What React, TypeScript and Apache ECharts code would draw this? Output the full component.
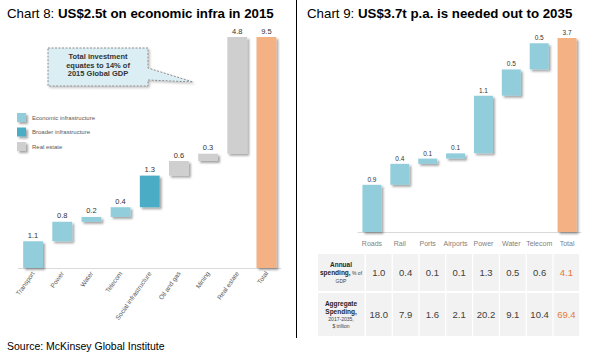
import React, { useEffect, useRef } from "react";
import * as echarts from "echarts";

const leftCategories = ["Transport", "Power", "Water", "Telecom", "Social infrastructure", "Oil and gas", "Mining", "Real estate", "Total"];
const leftValues = [1.1, 0.8, 0.2, 0.4, 1.3, 0.6, 0.3, 4.8, 9.5];
const leftKinds = ["econ", "econ", "econ", "econ", "broader", "real", "real", "real", "total"];

const rightCategories = ["Roads", "Rail", "Ports", "Airports", "Power", "Water", "Telecom", "Total"];
const rightValues = [0.9, 0.4, 0.1, 0.1, 1.1, 0.5, 0.5, 3.7];
const rightKinds = ["econ", "econ", "econ", "econ", "econ", "econ", "econ", "total"];

const annualSpending = [1.0, 0.4, 0.1, 0.1, 1.3, 0.5, 0.6, 4.1];
const aggregateSpending = [18.0, 7.9, 1.6, 2.1, 20.2, 9.1, 10.4, 69.4];

const legendLabels = ["Economic infrastructure", "Broader infrastructure", "Real estate"];
const legendKinds = ["econ", "broader", "real"];

const FONT = "Arial, 'Liberation Sans', sans-serif";
const COLORS: Record<string, string> = {
  econ: "#92CDDC",
  broader: "#4BACC6",
  real: "#D0CFCF",
  total: "#F4B183",
};
const SHADOW = { shadowColor: "rgba(0,0,0,0.35)", shadowBlur: 2, shadowOffsetX: 2, shadowOffsetY: 2 };

function bases(values: number[], kinds: string[]) {
  let acc = 0;
  return values.map((v, i) => {
    if (kinds[i] === "total") return 0;
    const b = Math.round(acc * 10) / 10;
    acc += v;
    return b;
  });
}

function valueData(values: number[], kinds: string[]) {
  return values.map((v, i) => ({
    value: v,
    itemStyle: { color: COLORS[kinds[i]], ...SHADOW },
  }));
}

export default function App() {
  const ref = useRef<HTMLDivElement>(null);
  useEffect(() => {
    if (!ref.current) return;
    const chart = echarts.init(ref.current, undefined, { renderer: "svg" });

    const graphics: any[] = [];
    const titleRich = {
      n: { fontSize: 13.3, fontFamily: FONT, fill: "#000" },
      b: { fontSize: 13.3, fontFamily: FONT, fontWeight: "bold", fill: "#000" },
    };
    graphics.push({
      type: "text", x: 7, y: 13,
      style: { text: "{n|Chart 8: }{b|US$2.5t on economic infra in 2015}", rich: titleRich, verticalAlign: "middle" },
    });
    graphics.push({
      type: "text", x: 307, y: 13,
      style: { text: "{n|Chart 9: }{b|US$3.7t p.a. is needed out to 2035}", rich: titleRich, verticalAlign: "middle" },
    });
    graphics.push({ type: "line", shape: { x1: 296.5, y1: 0, x2: 296.5, y2: 338 }, style: { stroke: "#000", lineWidth: 1 } });
    graphics.push({
      type: "text", x: 7, y: 346,
      style: { text: "Source: McKinsey Global Institute", fontSize: 10.5, fontFamily: FONT, fill: "#000", verticalAlign: "middle" },
    });
    legendLabels.forEach((lab, i) => {
      const y = 113 + i * 14.5;
      graphics.push({ type: "rect", shape: { x: 17, y, width: 9, height: 9 }, style: { fill: COLORS[legendKinds[i]], ...SHADOW } });
      graphics.push({
        type: "text", x: 32, y: y + 4.5,
        style: { text: lab, fontSize: 6, fontFamily: FONT, fill: "#595959", verticalAlign: "middle" },
      });
    });
    graphics.push({
      type: "polygon",
      shape: { points: [[48, 48], [148, 48], [148, 68], [193, 82], [148, 80], [148, 86], [48, 86]] },
      style: { fill: "#DBEEF4", stroke: "#8c8c8c", lineWidth: 1, lineDash: [2, 1.5], shadowColor: "rgba(0,0,0,0.25)", shadowBlur: 2, shadowOffsetX: 1.5, shadowOffsetY: 1.5 },
    });
    graphics.push({
      type: "text", x: 98, y: 65,
      style: {
        text: "Total investment\nequates to 14% of\n2015 Global GDP",
        fontSize: 7.5, fontWeight: "bold", fontFamily: FONT, fill: "#333", align: "center", verticalAlign: "middle", lineHeight: 8.5,
      },
    });
    const cellX0 = 366;
    const cellStep = 26.8;
    const cellW = 25.6;
    const rows = [
      { y: 254, h: 37, vals: annualSpending, header: "{b|Annual}\n{b|spending,}{s| % of}\n{s|GDP}" },
      { y: 293, h: 43, vals: aggregateSpending, header: "{b|Aggregate}\n{b|Spending,}\n{s|2017-2035,}\n{s|$ trillion}" },
    ];
    rows.forEach((r) => {
      graphics.push({ type: "rect", shape: { x: 318, y: r.y, width: 46.5, height: r.h }, style: { fill: "#F2F2F2" } });
      graphics.push({
        type: "text", x: 341, y: r.y + r.h / 2,
        style: {
          text: r.header, align: "center", verticalAlign: "middle",
          rich: {
            b: { fontSize: 6.5, fontWeight: "bold", fontFamily: FONT, fill: "#262626", lineHeight: 8, align: "center" },
            s: { fontSize: 5, fontFamily: FONT, fill: "#404040", lineHeight: 7.5, align: "center" },
          },
        },
      });
      r.vals.forEach((v, i) => {
        const x = cellX0 + i * cellStep;
        graphics.push({ type: "rect", shape: { x, y: r.y, width: cellW, height: r.h }, style: { fill: "#F2F2F2" } });
        graphics.push({
          type: "text", x: x + cellW / 2, y: r.y + r.h / 2,
          style: {
            text: v.toFixed(1), fontSize: 9.5, fontFamily: FONT,
            fill: i === r.vals.length - 1 ? "#E07B39" : "#404040",
            align: "center", verticalAlign: "middle",
          },
        });
      });
    });

    const labelCommon = {
      show: true, position: "top", distance: 2, fontFamily: FONT, color: "#333333",
      formatter: (p: any) => p.value.toFixed(1),
    };

    chart.setOption({
      animation: false,
      textStyle: { fontFamily: FONT },
      grid: [
        { left: 18.5, top: 37, width: 262.5, height: 231 },
        { left: 358, top: 38, width: 223, height: 194 },
      ],
      xAxis: [
        {
          type: "category", gridIndex: 0, data: leftCategories,
          axisLine: { lineStyle: { color: "#D9D9D9" } }, axisTick: { show: false },
          axisLabel: { rotate: 55, fontSize: 6.5, color: "#595959", margin: 4, interval: 0, fontFamily: FONT },
        },
        {
          type: "category", gridIndex: 1, data: rightCategories,
          axisLine: { lineStyle: { color: "#D9D9D9" } }, axisTick: { show: false },
          axisLabel: { fontSize: 7, color: "#7F7F7F", margin: 8, interval: 0, fontFamily: FONT },
        },
      ],
      yAxis: [
        { type: "value", gridIndex: 0, min: 0, max: 9.5, show: false, splitLine: { show: false } },
        { type: "value", gridIndex: 1, min: 0, max: 3.7, show: false, splitLine: { show: false } },
      ],
      series: [
        {
          type: "bar", xAxisIndex: 0, yAxisIndex: 0, stack: "l", barWidth: "68%",
          data: bases(leftValues, leftKinds), itemStyle: { color: "transparent" }, silent: true,
        },
        {
          type: "bar", xAxisIndex: 0, yAxisIndex: 0, stack: "l", barWidth: "68%",
          data: valueData(leftValues, leftKinds),
          label: { ...labelCommon, fontSize: 7.5 },
        },
        {
          type: "bar", xAxisIndex: 1, yAxisIndex: 1, stack: "r", barWidth: "68%",
          data: bases(rightValues, rightKinds), itemStyle: { color: "transparent" }, silent: true,
        },
        {
          type: "bar", xAxisIndex: 1, yAxisIndex: 1, stack: "r", barWidth: "68%",
          data: valueData(rightValues, rightKinds),
          label: { ...labelCommon, fontSize: 6.5 },
        },
      ],
      graphic: graphics,
    });
    return () => chart.dispose();
  }, []);
  return <div ref={ref} style={{ position: "absolute", left: 0, top: 0, width: 591, height: 354, background: "#fff" }} />;
}
